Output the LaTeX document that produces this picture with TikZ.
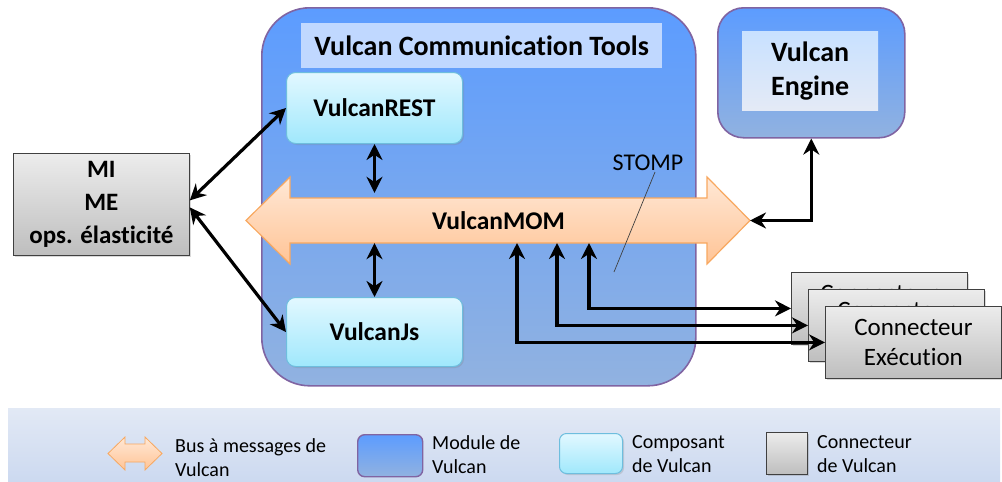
\documentclass[tikz,border=0pt]{standalone}
\usepackage{fontspec}
\setmainfont{Carlito}[Ligatures=NoCommon]
\usetikzlibrary{arrows.meta,shadows,calc}
\definecolor{modborder}{RGB}{128,100,162}
\definecolor{modtop}{RGB}{92,156,255}
\definecolor{modbot}{RGB}{145,178,224}
\definecolor{titlefill}{RGB}{192,216,255}
\definecolor{engtop}{RGB}{200,225,255}
\definecolor{engbot}{RGB}{228,234,246}
\definecolor{comptop}{RGB}{226,248,255}
\definecolor{compbot}{RGB}{160,232,252}
\definecolor{compborder}{RGB}{110,190,222}
\definecolor{bustop}{RGB}{255,232,214}
\definecolor{busbot}{RGB}{255,196,150}
\definecolor{busborder}{RGB}{248,168,96}
\definecolor{conntop}{RGB}{236,236,236}
\definecolor{connbot}{RGB}{190,190,190}
\definecolor{connborder}{RGB}{64,64,64}
\definecolor{legtop}{RGB}{226,233,245}
\definecolor{legbot}{RGB}{204,217,240}
\begin{document}
\begin{tikzpicture}[x=1pt,y=-1pt,
  modbox/.style={draw=modborder, line width=1.6pt, top color=modtop, bottom color=modbot},
  comp/.style={draw=compborder, line width=1pt, rounded corners=9pt, top color=comptop, bottom color=compbot,
    drop shadow={opacity=0.25,shadow xshift=1.5pt,shadow yshift=-1.5pt}},
  conn/.style={draw=connborder, line width=0.8pt, top color=conntop, bottom color=connbot,
    drop shadow={opacity=0.3,shadow xshift=2pt,shadow yshift=-2pt}, align=center},
  busshape/.style={draw=busborder, line width=1.2pt, top color=bustop, bottom color=busbot},
  link/.style={line width=3.2pt, {Stealth[length=16pt,width=16pt]}-{Stealth[length=16pt,width=16pt]}},
  lbl/.style={font=\fontsize{25.5}{30}\selectfont\bfseries},
  legtext/.style={font=\fontsize{20}{24}\selectfont, align=left, anchor=west, inner sep=0pt}
]
\useasboundingbox (0,0) rectangle (1002,482);

% legend band
\fill[top color=legtop, bottom color=legbot] (8,408) rectangle (1000,482);

% module
\node[modbox, rounded corners=48pt, anchor=north west, minimum width=434pt, minimum height=378pt] (mod) at (261,7) {};
\node[fill=titlefill, anchor=north west, minimum width=361pt, minimum height=45pt, inner sep=0pt,
  font=\fontsize{28}{30}\selectfont\bfseries] (title) at (301,23) {Vulcan Communication Tools};

% engine
\node[modbox, rounded corners=26pt, anchor=north west, minimum width=187pt, minimum height=130pt] (engine) at (717,7) {};
\node[top color=engtop, bottom color=engbot, anchor=north west, minimum width=136pt, minimum height=79pt, inner sep=0pt,
  align=center, font=\fontsize{28}{34}\selectfont\bfseries] (englabel) at (742,31) {Vulcan\\Engine};

% components
\node[comp, lbl, anchor=north west, minimum width=176pt, minimum height=71pt] (rest) at (286,72) {VulcanREST};
\node[comp, lbl, anchor=north west, minimum width=176pt, minimum height=69pt] (js) at (286,297) {VulcanJs};

% bus
\draw[busshape] (246,220.5) -- (290,177) -- (290,198) -- (707,198) -- (707,177) -- (750,220.5)
  -- (707,264) -- (707,243) -- (290,243) -- (290,264) -- cycle;
\node[minimum width=417pt, minimum height=45pt, inner sep=0pt, lbl] (bus) at (498.5,220.5) {VulcanMOM};
\coordinate (bustip) at (750,220.5);

% MI box
\node[conn, anchor=north west, minimum width=176pt, minimum height=102pt, inner sep=0pt,
  font=\fontsize{25}{33}\selectfont\bfseries] (mi) at (13,153) {MI\\ME\\ops. élasticité};

% connectors
\node[conn, anchor=north west, minimum width=176pt, minimum height=72pt, inner sep=0pt,
  font=\fontsize{25}{30}\selectfont] (c1) at (791,272) {Connecteur\\Exécution};
\node[conn, anchor=north west, minimum width=176pt, minimum height=72pt, inner sep=0pt,
  font=\fontsize{25}{30}\selectfont] (c2) at (808,289) {Connecteur\\Exécution};
\node[conn, anchor=north west, minimum width=176pt, minimum height=72pt, inner sep=0pt,
  font=\fontsize{25}{30}\selectfont] (c3) at (825,306) {Connecteur\\Exécution};

% STOMP
\node[font=\fontsize{24}{28}\selectfont, inner sep=1pt] (stomp) at (648,163) {STOMP};
\coordinate (stompend) at (614,272);
\draw[line width=0.7pt, black!75] ([xshift=7pt]stomp.south) -- (stompend);

% links
\draw[link, shorten >=5pt] (rest.south) -- (rest.south |- bus.north);
\draw[link] (js.north) -- (js.north |- bus.south);
\draw[link] (bustip) -| (engine.south);
\draw[link] ([yshift=4pt]mi.east) -- (rest.west);
\draw[link] ([yshift=-3pt]mi.east) -- (js.west);
\coordinate (b1) at (589,243);
\coordinate (b2) at (557,243);
\coordinate (b3) at (517,243);
\draw[link] (b1) |- (c1.west);
\draw[link] (b2) |- (c2.west);
\draw[link] (b3) |- (c3.west);

% legend items
\draw[busshape, line width=0.8pt] (108,453.5) -- (125,437) -- (125,444) -- (145,444) -- (145,437) -- (162,453.5)
  -- (145,470) -- (145,462) -- (125,462) -- (125,470) -- cycle;
\node[legtext] (lbus) at (175,458) {Bus à messages de\\Vulcan};
\node[modbox, line width=1.4pt, rounded corners=7pt, anchor=north west, minimum width=65pt, minimum height=42pt] (lmod) at (357,434) {};
\node[legtext] (lmodt) at (432,455) {Module de\\Vulcan};
\node[comp, drop shadow={opacity=0}, rounded corners=7pt, anchor=north west, minimum width=63pt, minimum height=40pt] (lcomp) at (559,433) {};
\node[legtext] (lcompt) at (632,454) {Composant\\de Vulcan};
\node[conn, drop shadow={opacity=0}, anchor=north west, minimum width=41pt, minimum height=42pt] (lconn) at (766,432) {};
\node[legtext] (lconnt) at (817,454) {Connecteur\\de Vulcan};
\end{tikzpicture}
\end{document}
